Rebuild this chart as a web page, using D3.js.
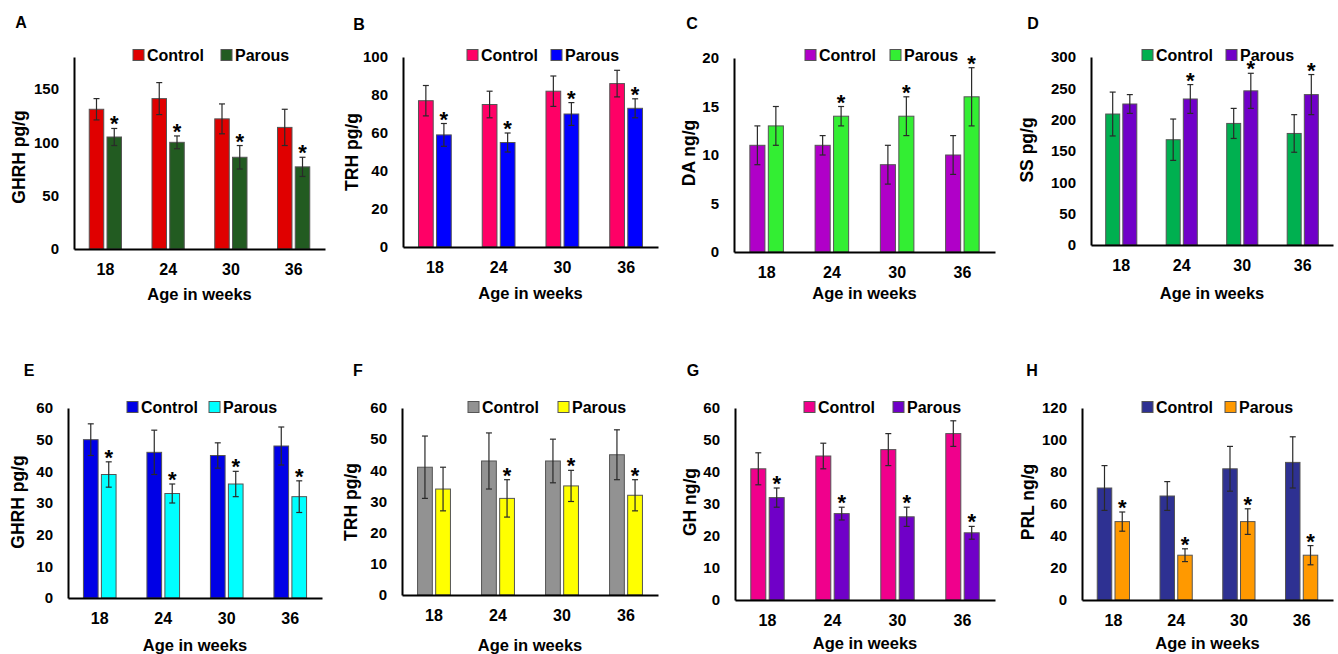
<!DOCTYPE html>
<html>
<head>
<meta charset="utf-8">
<script src="https://cdn.jsdelivr.net/npm/d3@7"></script>
<style>
  body { margin: 0; background: #fff; }
  svg text { font-family: "Liberation Sans", Arial, sans-serif; font-weight: bold; fill: #000; }
</style>
</head>
<body>
<svg id="fig" width="1338" height="654"></svg>
<script>
const weeks = ['18', '24', '30', '36']
const groups = ['Control', 'Parous']
const letters = ['A', 'B', 'C', 'D', 'E', 'F', 'G', 'H']
const yTitles = ['GHRH pg/g', 'TRH pg/g', 'DA ng/g', 'SS pg/g', 'GHRH pg/g', 'TRH pg/g', 'GH ng/g', 'PRL ng/g']
const yMax = [180, 100, 20, 300, 60, 60, 60, 120]
const yStep = [50, 20, 5, 50, 10, 10, 10, 20]

const controlMean = [
  [131, 141, 122, 114],
  [77, 75, 82, 86],
  [11, 11, 9, 10],
  [209, 168, 194, 178],
  [50, 46, 45, 48],
  [41, 43, 43, 45],
  [41, 45, 47, 52],
  [70, 65, 82, 86]
]
const controlErr = [
  [10, 15, 14, 17],
  [8, 7, 8, 7],
  [2, 1, 2, 2],
  [35, 33, 24, 30],
  [5, 7, 4, 6],
  [10, 9, 7, 8],
  [5, 4, 5, 4],
  [14, 9, 14, 16]
]
const parousMean = [
  [105, 100, 86, 77],
  [59, 55, 70, 73],
  [13, 14, 14, 16],
  [225, 233, 246, 240],
  [39, 33, 36, 32],
  [34, 31, 35, 32],
  [32, 27, 26, 21],
  [49, 28, 49, 28]
]
const parousErr = [
  [8, 6, 11, 9],
  [6, 5, 6, 5],
  [2, 1, 2, 3],
  [15, 23, 28, 32],
  [4, 3, 4, 5],
  [7, 6, 5, 5],
  [3, 2, 3, 2],
  [6, 4, 8, 6]
]
// asterisk over the parous bar
const parousSig = [
  [1, 1, 1, 1],
  [1, 1, 1, 1],
  [0, 1, 1, 1],
  [0, 1, 1, 1],
  [1, 1, 1, 1],
  [0, 1, 1, 1],
  [1, 1, 1, 1],
  [1, 1, 1, 1]
]
const controlColor = ['#e00000', '#ff0066', '#b000c8', '#00b050', '#0000e6', '#929292', '#f0008c', '#2e3192']
const parousColor = ['#225b21', '#0000ff', '#33ee33', '#7000c8', '#00ffff', '#ffff00', '#7000c8', '#ff9900']

// panel geometry, px
const layout = [
  { x0: 74, x1: 325, top: 57, base: 249, letter: [21, 22], ylab: [19, 157], leg: [133, 221, 55], titleY: 294 },
  { x0: 403, x1: 658, top: 57, base: 247, letter: [359, 24], ylab: [352, 152], leg: [467, 551, 55], titleY: 293 },
  { x0: 734, x1: 995, top: 58, base: 252, letter: [692, 23], ylab: [689, 153], leg: [805, 890, 55], titleY: 293 },
  { x0: 1091, x1: 1333, top: 57, base: 245, letter: [1033, 23], ylab: [1027, 150], leg: [1142, 1226, 55], titleY: 293 },
  { x0: 68, x1: 322, top: 408, base: 598, letter: [29, 370], ylab: [18, 502], leg: [127, 209, 407], titleY: 645 },
  { x0: 402, x1: 658, top: 408, base: 595, letter: [358, 370], ylab: [351, 502], leg: [468, 558, 407], titleY: 645 },
  { x0: 735, x1: 995, top: 408, base: 600, letter: [693, 370], ylab: [690, 502], leg: [804, 893, 407], titleY: 643 },
  { x0: 1082, x1: 1333, top: 408, base: 600, letter: [1032, 370], ylab: [1028, 502], leg: [1142, 1225, 407], titleY: 643 }
]

const svg = d3.select('#fig')

function drawPanel(i) {
  let L = layout[i]
  let g = svg.append('g').attr('class', 'panel')

  let x = d3.scaleBand().domain(weeks).range([L.x0, L.x1])
  let y = d3.scaleLinear().domain([0, yMax[i]]).range([L.base, L.top])

  let step = x.step(),
    barW = step * 0.231,
    gap = step * 0.052

  let rows = weeks.map((w, j) => ({
    week: w,
    c: controlMean[i][j], ce: controlErr[i][j],
    p: parousMean[i][j], pe: parousErr[i][j],
    sig: parousSig[i][j]
  }))

  let cx = d => x(d.week) + step / 2 - gap / 2 - barW / 2
  let px = d => x(d.week) + step / 2 + gap / 2 + barW / 2

  // bars
  g.selectAll('rect.ctrl').data(rows).enter().append('rect')
    .attr('class', 'ctrl')
    .attr('x', d => cx(d) - barW / 2)
    .attr('y', d => y(d.c))
    .attr('width', barW)
    .attr('height', d => y(0) - y(d.c))
    .attr('fill', controlColor[i])
    .attr('stroke', '#555').attr('stroke-width', 1)

  g.selectAll('rect.par').data(rows).enter().append('rect')
    .attr('class', 'par')
    .attr('x', d => px(d) - barW / 2)
    .attr('y', d => y(d.p))
    .attr('width', barW)
    .attr('height', d => y(0) - y(d.p))
    .attr('fill', parousColor[i])
    .attr('stroke', '#555').attr('stroke-width', 1)

  // error bars
  let errs = []
  rows.forEach(d => {
    errs.push({ x: cx(d), m: d.c, e: d.ce })
    errs.push({ x: px(d), m: d.p, e: d.pe })
  })
  let eb = g.selectAll('g.err').data(errs).enter().append('g')
    .attr('class', 'err')
    .attr('stroke', '#2a2a2a').attr('stroke-width', 1.2)
  eb.append('line')
    .attr('x1', d => d.x).attr('x2', d => d.x)
    .attr('y1', d => y(d.m - d.e)).attr('y2', d => y(d.m + d.e))
  eb.append('line')
    .attr('x1', d => d.x - 3).attr('x2', d => d.x + 3)
    .attr('y1', d => y(d.m + d.e)).attr('y2', d => y(d.m + d.e))
  eb.append('line')
    .attr('x1', d => d.x - 3).attr('x2', d => d.x + 3)
    .attr('y1', d => y(d.m - d.e)).attr('y2', d => y(d.m - d.e))

  // significance stars
  g.selectAll('text.star').data(rows.filter(d => d.sig)).enter().append('text')
    .attr('class', 'star')
    .attr('x', d => px(d))
    .attr('y', d => y(d.p + d.pe) + 3)
    .attr('text-anchor', 'middle')
    .style('font-size', '22px')
    .text('*')

  // axes
  let yAxis = d3.axisLeft(y)
    .tickValues(d3.range(0, yMax[i] + 0.001, yStep[i]))
    .tickSize(0).tickPadding(15)
  let ya = g.append('g').attr('transform', `translate(${L.x0},0)`).call(yAxis)
  ya.select('.domain').attr('stroke', '#000').attr('stroke-width', 2)
  ya.selectAll('text').style('font-size', '15px')

  let xAxis = d3.axisBottom(x).tickSize(0).tickPadding(15)
  let xa = g.append('g').attr('transform', `translate(0,${L.base})`).call(xAxis)
  xa.select('.domain').attr('stroke', '#000').attr('stroke-width', 2)
  xa.selectAll('text').style('font-size', '16px')

  // titles
  g.append('text')
    .attr('x', (L.x0 + L.x1) / 2).attr('y', L.titleY)
    .attr('dy', '0.35em').attr('text-anchor', 'middle')
    .style('font-size', '16.5px')
    .text('Age in weeks')

  g.append('text')
    .attr('transform', `translate(${L.ylab[0]},${L.ylab[1]}) rotate(-90)`)
    .attr('dy', '0.35em').attr('text-anchor', 'middle')
    .style('font-size', '17.5px')
    .text(yTitles[i])

  g.append('text')
    .attr('x', L.letter[0]).attr('y', L.letter[1])
    .attr('dy', '0.35em').attr('text-anchor', 'middle')
    .style('font-size', '16px')
    .text(letters[i])

  // legend
  let leg = g.selectAll('g.leg').data(groups).enter().append('g')
    .attr('class', 'leg')
    .attr('transform', (d, k) => `translate(${L.leg[k]},${L.leg[2]})`)
  leg.append('rect')
    .attr('x', 0).attr('y', -5.5).attr('width', 11).attr('height', 11)
    .attr('fill', (d, k) => k === 0 ? controlColor[i] : parousColor[i])
    .attr('stroke', '#555').attr('stroke-width', 1)
  leg.append('text')
    .attr('x', 14).attr('dy', '0.35em')
    .style('font-size', '16px')
    .text(d => d)
}

letters.forEach((l, i) => drawPanel(i))
</script>
</body>
</html>
